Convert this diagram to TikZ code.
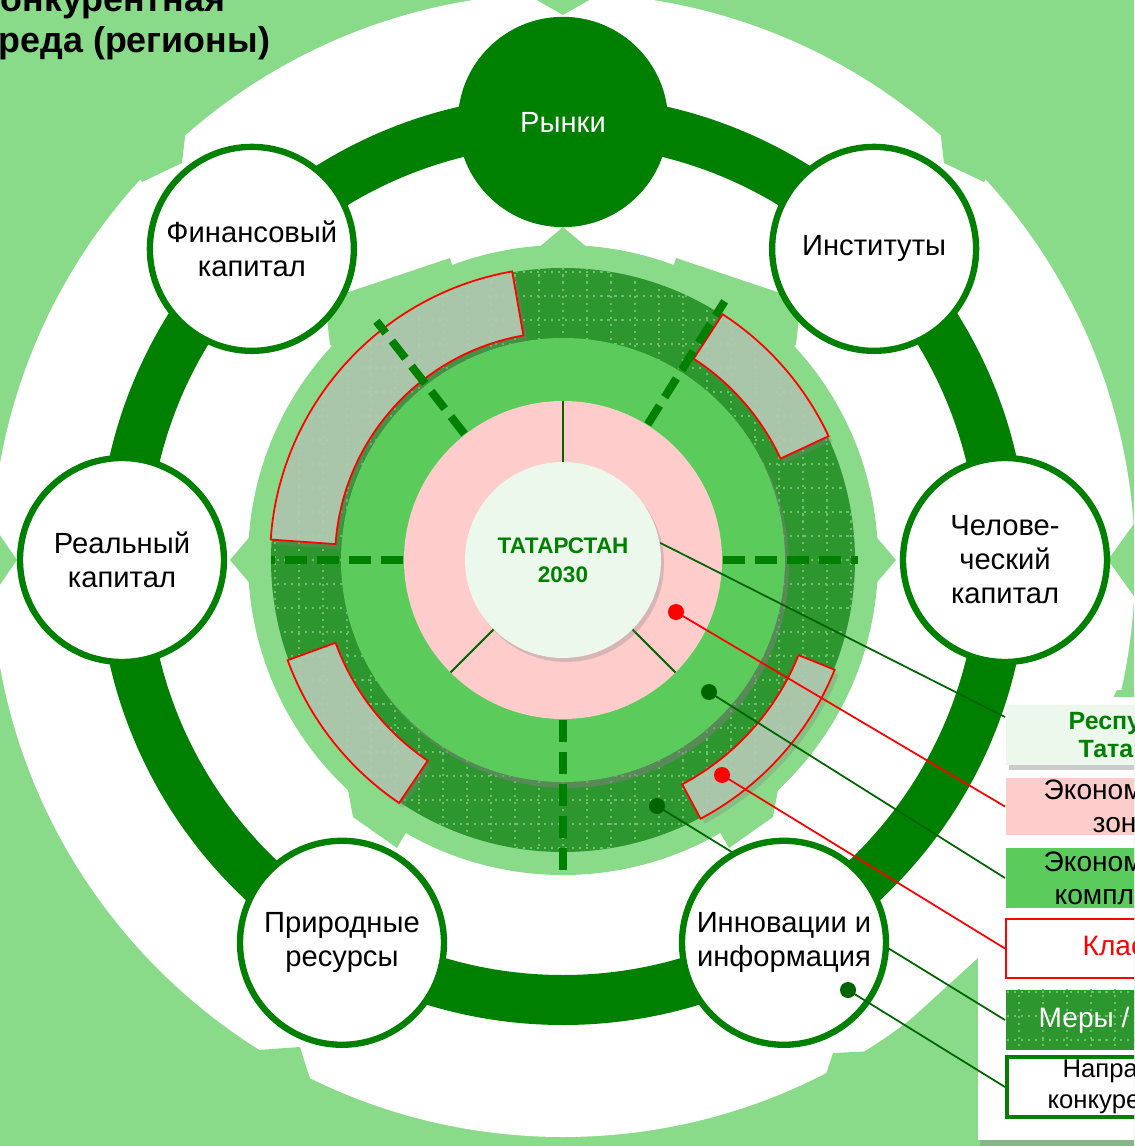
\documentclass[tikz,border=0pt]{standalone}
\usepackage{fontspec}
\setmainfont{Liberation Sans}
\usetikzlibrary{positioning,calc,shadows}
\definecolor{bggreen}{RGB}{137,219,137}
\definecolor{ringgreen}{RGB}{0,128,0}
\definecolor{darkline}{RGB}{0,100,0}
\definecolor{patgreen}{RGB}{46,150,46}
\definecolor{patdot}{RGB}{110,192,110}
\definecolor{midgreen}{RGB}{91,203,91}
\definecolor{pinkzone}{RGB}{255,204,204}
\definecolor{palegreen}{RGB}{236,248,236}
\definecolor{sectorgray}{RGB}{184,206,184}

\begin{document}
\begin{tikzpicture}[
  factor/.style={circle, draw=ringgreen, line width=1.8pt, fill=white, minimum size=2.04cm, inner sep=0pt, align=center, font=\fontsize{8.3}{9.7}\selectfont},
  legbox/.style={rectangle, anchor=west, minimum width=2.5cm, minimum height=0.6cm, inner sep=0pt},
  legtext/.style={anchor=west, align=left, inner sep=0pt, font=\fontsize{8}{9.4}\selectfont},
  dot/.style={circle, minimum size=0.16cm, inner sep=0pt},
  gline/.style={darkline, line width=0.5pt},
  rline/.style={red, line width=0.5pt},
  dashline/.style={ringgreen, line width=2.3pt, dash pattern=on 0.22cm off 0.1cm},
  thinsep/.style={darkline, line width=0.6pt},
  griddots/.style={patdot, line width=0.6pt, dash pattern=on 0.6pt off 1.4pt},
  zone/.style={fill=sectorgray, fill opacity=0.88, draw=red, line width=0.5pt, drop shadow={shadow xshift=0.04, shadow yshift=-0.05, opacity=0.3}}
]
\useasboundingbox (-5.63,-5.86) rectangle (5.71,5.60);
\clip (-5.63,-5.86) rectangle (5.71,5.60);

% background, white outer disc with its notches
\fill[bggreen] (-5.63,-5.86) rectangle (5.71,5.60);
\fill[white] (0,-0.05) circle (5.72);
\fill[bggreen] (0,5.45) -- (-0.35,5.65) -- (0.35,5.65) -- cycle;
\fill[bggreen] (-5.46,0) -- (-5.75,0.42) -- (-5.75,-0.42) -- cycle;
\fill[bggreen] (5.45,0) -- (5.75,0.42) -- (5.75,-0.42) -- cycle;
\fill[bggreen] (-3.78,4.23) -- (-3.81,3.97) -- (-4.21,3.78) -- (-4.40,4.10) -- (-3.90,4.50) -- cycle;
\fill[bggreen] (3.78,4.23) -- (3.81,3.97) -- (4.21,3.78) -- (4.40,4.10) -- (3.90,4.50) -- cycle;
\fill[bggreen] (-3.05,-4.90) -- (-2.63,-4.87) -- (-2.51,-5.25) -- (-2.8,-5.6) -- (-3.5,-5.1) -- cycle;
\fill[bggreen] (5.54,-1.30) -- (4.15,-3.98) -- (3.13,-4.91) -- (2.70,-4.93) -- (2.59,-5.26)
  -- (2.65,-5.95) -- (6,-5.95) -- (6,-1.30) -- cycle;

% legend panel
\fill[white, drop shadow={shadow xshift=0.02, shadow yshift=-0.06, opacity=0.4}] (4.15,-1.37) rectangle (6.2,-5.80);

% main ring
\draw[ringgreen, line width=0.5cm] (0,0) circle (4.40);

% inner light disc with points and shoulders
\fill[bggreen] (0,0) circle (3.15);
\foreach \a in {0,90,180}
  \fill[bggreen, rotate=\a] (3.33,0) -- (3.05,0.33) -- (3.05,-0.33) -- cycle;
\foreach \s in {1,-1}
  \fill[bggreen, xscale=\s] (-2.33,2.15) -- (-2.38,2.60) -- (-1.13,3.02) -- (-1.0,2.6) -- (-2.0,2.0) -- cycle;
\foreach \s in {1,-1}
  \fill[bggreen, xscale=\s] (-2.15,-2.30) -- (-2.10,-2.57) -- (-1.66,-2.88) -- (-1.5,-2.6) -- cycle;

% patterned ring
\begin{scope}
  \clip (0,0) circle (2.92);
  \fill[patgreen] (-3,-3) rectangle (3,3);
  \draw[griddots, step=0.24] (-3,-3) grid (3,3);
\end{scope}

% clusters
\foreach \s/\e/\ri in {100/176/2.28, 25/57/2.40, 200/236/2.42, 298/338/2.54}
  \path[zone] (\s:\ri) arc[start angle=\s, end angle=\e, radius=\ri]
    -- (\e:2.93) arc[start angle=\e, end angle=\s, radius=2.93] -- cycle;

% complexes and zones
\fill[midgreen, drop shadow={shadow xshift=0.04, shadow yshift=-0.06, opacity=0.5}] (0,0) circle (2.22);
\fill[pinkzone] (0,0) circle (1.59);
\foreach \a/\r in {180/2.92, 0/2.95, 270/3.12, 128/3.03, 58/3.05}
  \draw[dashline] (\a:1.60) -- (\a:\r);
\foreach \a in {90,225,315}
  \draw[thinsep] (\a:0.98) -- (\a:1.59);
\node[circle, fill=palegreen, minimum size=1.96cm, inner sep=0pt, align=center,
  text=ringgreen, font=\fontsize{6.4}{8.3}\selectfont\bfseries,
  drop shadow={shadow xshift=0.03, shadow yshift=-0.04, opacity=0.3}] (tatar) at (0,0) {ТАТАРСТАН\\2030};

% legend
\node[legbox, fill=palegreen, drop shadow={shadow xshift=0.03, shadow yshift=-0.05, opacity=0.4}] (legrt) at (4.42,-1.75) {};
\node[legbox, fill=pinkzone, minimum height=0.57cm] (legzone) at (4.42,-2.465) {};
\node[legbox, fill=midgreen] (legcomplex) at (4.42,-3.18) {};
\node[legbox, fill=white, draw=red, line width=0.5pt, minimum height=0.59cm] (legcluster) at (4.42,-3.885) {};
\node[legbox, fill=patgreen] (legmeasure) at (4.42,-4.60) {};
\begin{scope}
  \clip (legmeasure.south west) rectangle (legmeasure.north east);
  \draw[griddots, step=0.24] (4.3,-5) grid (6.5,-4.2);
\end{scope}
\node[legbox, fill=white, draw=ringgreen, line width=1pt] (legdirect) at (4.42,-5.27) {};

\node[legtext, text=ringgreen, font=\fontsize{7.1}{8.2}\selectfont\bfseries] (rttext) at (5.05,-1.77) {Республика\\\hspace*{0.10cm}Татарстан};
\node[legtext] (zonetext) at (4.80,-2.465) {Экономические\\\hspace*{0.49cm}зоны};
\node[legtext] (complextext) at (4.80,-3.18) {Экономические\\\hspace*{0.11cm}комплексы};
\node[legtext, text=red] (clustertext) at (5.19,-3.885) {Кластеры};
\node[legtext, text=white] (measuretext) at (4.75,-4.60) {Меры /};
\node[legtext, font=\fontsize{7.3}{9}\selectfont] (directtext) at (4.84,-5.27) {\hspace*{0.15cm}Направления\\конкурентной};

% markers and leaders
\node[dot, fill=red] (dzone) at (1.13,-0.52) {};
\node[dot, fill=darkline] (dcomplex) at (1.46,-1.32) {};
\node[dot, fill=red] (dcluster) at (1.59,-2.15) {};
\node[dot, fill=darkline] (dmeasure) at (0.94,-2.46) {};
\draw[gline] (tatar.10) -- ($(legrt.west)+(0,0.18)$);
\draw[rline] (dzone.center) -- (legzone.west);
\draw[gline] (dcomplex.center) -- (legcomplex.west);
\draw[rline] (dcluster.center) -- (legcluster.west);
\draw[gline] (dmeasure.center) -- (legmeasure.west);

% factors on the ring
\node[factor, fill=ringgreen, text=white] (markets) at (90:4.38) {Рынки};
\node[factor] (inst) at (45:4.40) {Институты};
\node[factor] (human) at (0:4.42) {Челове-\\ческий\\капитал};
\node[factor] (innov) at (300:4.42) {Инновации и\\информация};
\node[factor] (nature) at (240:4.42) {Природные\\ресурсы};
\node[factor] (real) at (180:4.41) {Реальный\\капитал};
\node[factor] (fin) at (135:4.40) {Финансовый\\капитал};

\node[dot, fill=darkline] (ddirect) at (2.85,-4.30) {};
\draw[gline] (ddirect.center) -- (legdirect.west);

% title
\node[anchor=base west, align=left, inner sep=0pt, font=\fontsize{10.2}{11.7}\selectfont\bfseries] (title) at (-5.85,5.07) {Конкурентная\\среда (регионы)};
\end{tikzpicture}
\end{document}
